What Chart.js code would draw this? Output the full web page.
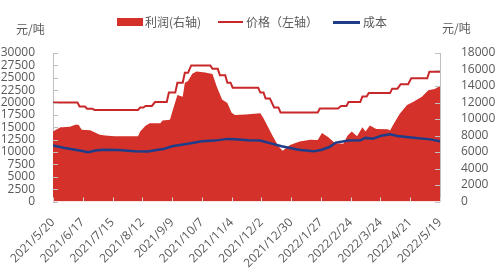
<!DOCTYPE html>
<html>
<head>
<meta charset="utf-8">
<script src="https://cdn.jsdelivr.net/npm/chart.js@4.4.1/dist/chart.umd.min.js"></script>
<style>
  body { margin: 0; background: #fff; }
  #wrap { position: relative; width: 495px; height: 277px; }
  #chart { position: absolute; left: 0; top: 0; }
  .lbl { position: absolute; font: 12px "Noto Sans CJK SC", sans-serif; color: #595959; line-height: 16px; white-space: nowrap; }
  .sw { position: absolute; }
</style>
</head>
<body>
<div id="wrap">
  <canvas id="chart" width="495" height="277"></canvas>
  <div class="sw" style="left:117px;top:18px;width:26px;height:8px;background:#D3312A"></div>
  <div class="lbl" style="left:145px;top:14px">利润(右轴)</div>
  <div class="sw" style="left:218px;top:21px;width:25px;height:2px;background:#C8282A"></div>
  <div class="lbl" style="left:246px;top:14px">价格（左轴）</div>
  <div class="sw" style="left:333px;top:21px;width:27px;height:3px;background:#1F3C88"></div>
  <div class="lbl" style="left:363px;top:14px">成本</div>
  <div class="lbl" style="left:16px;top:21px">元/吨</div>
  <div class="lbl" style="left:442px;top:20px">元/吨</div>
</div>
<script>
// x positions are days since 2021/5/20, tick labels every 28 days
const tickLabels = ['2021/5/20', '2021/6/17', '2021/7/15', '2021/8/12', '2021/9/9', '2021/10/7', '2021/11/4',
  '2021/12/2', '2021/12/30', '2022/1/27', '2022/2/24', '2022/3/24', '2022/4/21', '2022/5/19'];

// 价格（左轴）
const priceDays = [0, 23, 25, 30, 32, 37, 39, 80, 82, 85, 87, 93, 96, 107, 109, 115, 117, 122, 124, 127, 130, 148, 150, 155,
  157, 162, 164, 167, 169, 193, 195, 198, 200, 204, 208, 212, 214, 249, 251, 268, 271, 276, 278, 289, 291, 295, 297, 317,
  319, 324, 327, 334, 337, 352, 354, 364];
const priceValues = [20000, 20000, 19200, 19200, 18750, 18750, 18500, 18500, 19000, 19000, 19300, 19300, 20100, 20100,
  22000, 22000, 24000, 24000, 26000, 26000, 27500, 27500, 26800, 26800, 25500, 25500, 24000, 24000, 23000, 23000, 22000,
  22000, 20800, 20800, 19000, 19000, 18000, 18000, 18800, 18800, 19300, 19300, 20100, 20100, 21200, 21200, 21900, 21900,
  22800, 22800, 23700, 23700, 24900, 24900, 26200, 26200];

// 成本（左轴）
const costDays = [0, 11, 25, 33, 40, 47, 61, 77, 89, 99, 105, 112, 121, 131, 140, 152, 164, 171, 184, 195, 203, 215, 231,
  245, 252, 260, 266, 278, 289, 294, 301, 309, 317, 324, 339, 355, 364];
const costValues = [11300, 10800, 10300, 9950, 10300, 10450, 10400, 10150, 10100, 10450, 10650, 11150, 11450, 11800, 12150,
  12300, 12650, 12600, 12350, 12300, 11850, 11150, 10450, 10130, 10400, 11000, 11900, 12300, 12350, 12850, 12700, 13300,
  13600, 13250, 12900, 12550, 12170];

// 利润（右轴）
const profitDays = [0, 7, 9, 16, 21, 24, 27, 35, 44, 49, 58, 80, 82, 87, 91, 101, 103, 110, 112, 117, 122, 124, 127, 131,
  135, 143, 150, 154, 159, 164, 168, 171, 181, 195, 198, 202, 206, 212, 216, 223, 232, 242, 249, 253, 259, 265, 273, 277,
  281, 286, 291, 294, 298, 304, 315, 317, 320, 326, 333, 339, 347, 353, 359, 364];
const profitValues = [8500, 9000, 9000, 9050, 9300, 9300, 8700, 8650, 8100, 8000, 7900, 7900, 8480, 9170, 9500, 9500, 9820,
  9900, 10800, 12900, 12700, 14400, 14600, 15500, 15750, 15650, 15450, 13950, 12350, 11950, 10750, 10500, 10550, 10700,
  10100, 9100, 8100, 6700, 6150, 6860, 7270, 7500, 7450, 8300, 7800, 7100, 7000, 7960, 8500, 7900, 9000, 8500, 9200,
  8800, 8750, 8600, 9300, 10600, 11700, 12100, 12700, 13500, 13650, 14000];

const pts = (xs, ys) => xs.map((x, i) => ({ x, y: ys[i] }));

const tickFont = { family: '"Open Sans", sans-serif', size: 12 };
const grey = '#595959';

// small tick marks drawn inside the plot, on top of the area
const innerTicks = {
  id: 'innerTicks',
  afterDatasetsDraw(chart) {
    const { ctx, chartArea, scales } = chart;
    ctx.save();
    ctx.lineWidth = 1;
    ctx.strokeStyle = '#d9d9d9';
    scales.x.ticks.forEach(t => {
      const px = Math.round(scales.x.getPixelForValue(t.value)) + 0.5;
      ctx.beginPath();
      ctx.moveTo(px, chartArea.bottom);
      ctx.lineTo(px, chartArea.bottom - 4);
      ctx.stroke();
    });
    ctx.strokeStyle = '#bfbfbf';
    scales.y.ticks.forEach(t => {
      const py = Math.round(scales.y.getPixelForValue(t.value)) + 0.5;
      ctx.beginPath();
      ctx.moveTo(chartArea.left, py);
      ctx.lineTo(chartArea.left + 5, py);
      ctx.stroke();
    });
    scales.y1.ticks.forEach(t => {
      const py = Math.round(scales.y1.getPixelForValue(t.value)) + 0.5;
      ctx.beginPath();
      ctx.moveTo(chartArea.right, py);
      ctx.lineTo(chartArea.right - 5, py);
      ctx.stroke();
    });
    ctx.restore();
  }
};

new Chart(document.getElementById('chart').getContext('2d'), {
  type: 'line',
  data: {
    datasets: [
      {
        label: '利润(右轴)',
        data: pts(profitDays, profitValues),
        yAxisID: 'y1',
        backgroundColor: '#D3312A',
        borderWidth: 0,
        fill: 'origin',
        pointRadius: 0,
        order: 3,
      },
      {
        label: '价格（左轴）',
        data: pts(priceDays, priceValues),
        yAxisID: 'y',
        borderColor: '#C8282A',
        borderWidth: 2,
        fill: false,
        pointRadius: 0,
        order: 2,
      },
      {
        label: '成本',
        data: pts(costDays, costValues),
        yAxisID: 'y',
        borderColor: '#1F3C88',
        borderWidth: 2.5,
        fill: false,
        pointRadius: 0,
        order: 1,
      },
    ]
  },
  options: {
    responsive: false,
    animation: false,
    devicePixelRatio: 1,
    layout: { padding: { top: 53, left: 0, right: 0, bottom: 0 } },
    plugins: { legend: { display: false }, tooltip: { enabled: false } },
    scales: {
      x: {
        type: 'linear',
        min: 0,
        max: 364,
        grid: { display: false },
        border: { display: false },
        ticks: {
          stepSize: 28,
          autoSkip: false,
          minRotation: 45,
          maxRotation: 45,
          padding: 6,
          color: grey,
          font: tickFont,
          callback: v => tickLabels[Math.round(v / 28)],
        },
        afterFit: s => { s.height = 75.5; },
      },
      y: {
        position: 'left',
        min: 0,
        max: 30000,
        grid: { display: false },
        border: { display: true, color: '#bfbfbf' },
        ticks: { stepSize: 2500, autoSkip: false, padding: 10, color: grey, font: tickFont, callback: v => String(v) },
        afterFit: s => { s.width = 53; },
      },
      y1: {
        position: 'right',
        min: 0,
        max: 18000,
        grid: { display: false },
        border: { display: true, color: '#bfbfbf' },
        ticks: { stepSize: 2000, autoSkip: false, padding: 13, color: grey, font: tickFont, callback: v => String(v) },
        afterFit: s => { s.width = 55; },
      },
    }
  },
  plugins: [innerTicks]
});
</script>
</body>
</html>
